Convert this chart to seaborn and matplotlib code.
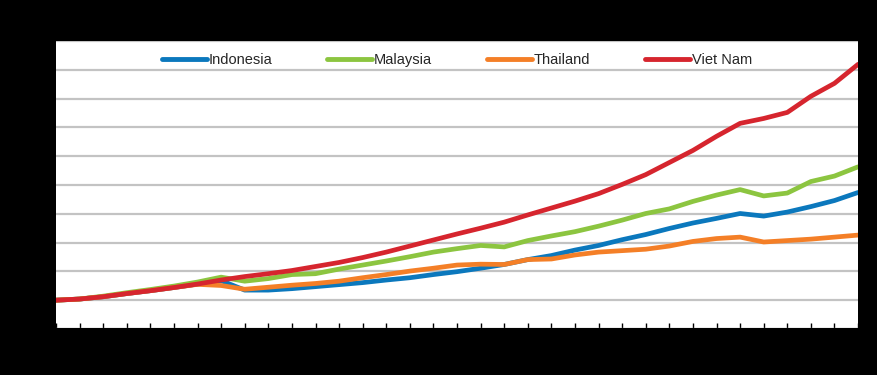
import pandas as pd
import matplotlib
matplotlib.use("Agg")
import matplotlib.pyplot as plt
import seaborn as sns

# -------------------------
# Data (index, first year = 100)
# -------------------------
years = [1990, 1991, 1992, 1993, 1994, 1995, 1996, 1997, 1998, 1999,
         2000, 2001, 2002, 2003, 2004, 2005, 2006, 2007, 2008, 2009,
         2010, 2011, 2012, 2013, 2014, 2015, 2016, 2017, 2018, 2019,
         2020, 2021, 2022, 2023, 2024]

indonesia = [100, 104, 112, 123, 133, 144, 156, 168, 135, 135,
             140, 147, 154, 161, 170, 178, 189, 199, 211, 224,
             241, 255, 274, 290, 310, 328, 349, 368, 384, 401,
             392, 406, 425, 446, 474]

malaysia = [100, 104, 114, 126, 137, 149, 163, 180, 166, 175,
            189, 192, 208, 222, 236, 251, 267, 279, 290, 285,
            307, 323, 338, 357, 378, 401, 417, 443, 465, 484,
            462, 472, 512, 531, 563]

thailand = [100, 104, 112, 123, 133, 144, 155, 151, 138, 145,
            152, 158, 166, 178, 189, 201, 211, 222, 225, 224,
            241, 243, 257, 267, 272, 277, 288, 304, 314, 319,
            302, 307, 312, 319, 326]

viet_nam = [100, 104, 112, 123, 133, 144, 156, 170, 182, 192,
            203, 217, 231, 248, 267, 288, 309, 330, 350, 371,
            396, 420, 444, 470, 502, 536, 578, 620, 669, 714,
            731, 752, 808, 853, 919]

countries = ["Indonesia", "Malaysia", "Thailand", "Viet Nam"]
colors = ["#0b78bd", "#8cc540", "#f47f27", "#d6252e"]
y_ticks = [0, 100, 200, 300, 400, 500, 600, 700, 800, 900, 1000]


def build_frame():
    rows = []
    for name, series in zip(countries, [indonesia, malaysia, thailand, viet_nam]):
        for i, (yr, val) in enumerate(zip(years, series)):
            rows.append({"pos": i, "year": yr, "country": name, "value": val})
    return pd.DataFrame(rows)


def make_chart():
    df = build_frame()

    sns.set_style("white")
    plt.rcParams["font.family"] = ["Liberation Sans Narrow", "Liberation Sans", "DejaVu Sans"]

    fig = plt.figure(figsize=(8.78, 3.75), dpi=100, facecolor="black")
    ax = fig.add_axes([0.0638, 0.1227, 0.9135, 0.768])
    ax.set_facecolor("white")

    sns.lineplot(data=df, x="pos", y="value", hue="country",
                 hue_order=countries, palette=colors,
                 linewidth=3.4, ax=ax, legend=True)

    # -------------------------
    # Axes styling
    # -------------------------
    ax.set_xlim(0, len(years) - 1)
    ax.set_ylim(0, 1000)
    ax.set_yticks(y_ticks)
    ax.set_yticklabels([str(t) for t in y_ticks], color="black", fontsize=10)
    ax.set_xticks(range(len(years)))
    ax.set_xticklabels([str(y) for y in years], rotation=90,
                       color="black", fontsize=9)
    ax.tick_params(axis="x", bottom=True, direction="in", length=4,
                   width=1, color="black")
    ax.tick_params(axis="y", length=0)
    ax.yaxis.grid(True, color="#c3c3c3", linewidth=1.6)
    ax.xaxis.grid(False)
    ax.set_axisbelow(True)
    ax.set_xlabel("")
    ax.set_ylabel("")

    for side in ["left", "right", "top"]:
        ax.spines[side].set_visible(False)
    ax.spines["bottom"].set_color("black")
    ax.spines["bottom"].set_linewidth(1.5)

    leg = ax.legend(loc="upper center", bbox_to_anchor=(0.5, 1.005), ncol=4,
                    frameon=False, fontsize=10.5, handlelength=3.1,
                    handletextpad=0.12, columnspacing=3.75)
    for line in leg.get_lines():
        line.set_linewidth(3.5)
        line.set_solid_capstyle("round")
    for line in ax.get_lines():
        line.set_solid_joinstyle("round")

    fig.savefig("out.png", dpi=100, facecolor="black")
    plt.close(fig)


if __name__ == "__main__":
    make_chart()
